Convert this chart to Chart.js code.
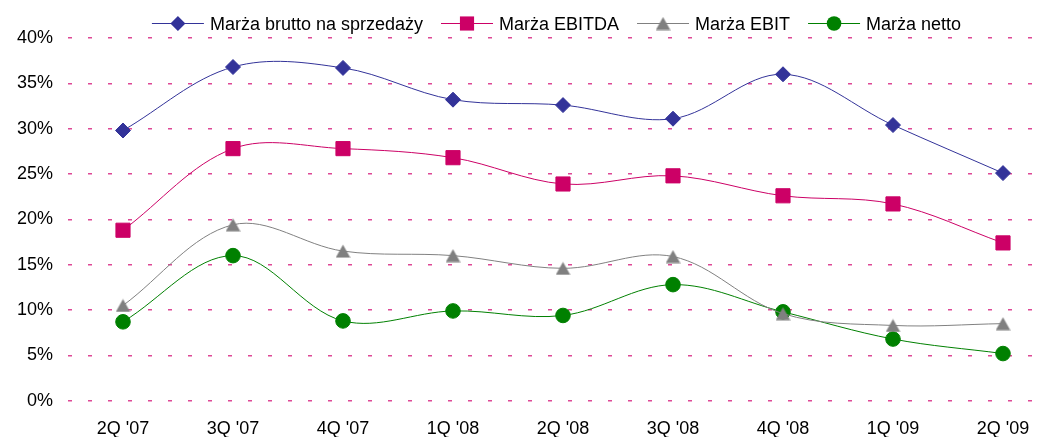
<!DOCTYPE html>
<html>
<head>
<meta charset="utf-8">
<script src="https://cdn.jsdelivr.net/npm/chart.js@4.4.1/dist/chart.umd.min.js"></script>
<style>
  html, body { margin: 0; padding: 0; background: #fff; overflow: hidden; }
  #wrap { width: 1069px; height: 437px; }
</style>
</head>
<body>
<div id="wrap"><canvas id="chart" width="1069" height="437"></canvas></div>
<script>
/* Marże – kwartalnie */
const quarters = ["2Q '07", "3Q '07", "4Q '07", "1Q '08", "2Q '08", "3Q '08", "4Q '08", "1Q '09", "2Q '09"];
const bruttoMargin = [29.8, 36.8, 36.7, 33.2, 32.6, 31.1, 36.0, 30.4, 25.1];
const ebitdaMargin = [18.8, 27.8, 27.8, 26.8, 23.9, 24.8, 22.6, 21.7, 17.4];
const ebitMargin   = [10.5, 19.4, 16.5, 16.0, 14.6, 15.9, 9.6, 8.3, 8.5];
const nettoMargin  = [8.7, 16.0, 8.8, 9.9, 9.4, 12.8, 9.8, 6.8, 5.2];
const yTicks = [0, 5, 10, 15, 20, 25, 30, 35, 40];

const FONT = '"Liberation Sans", Arial, sans-serif';

// triangle centred on its box (like the Excel marker)
function triangleImg(color) {
  const c = document.createElement('canvas');
  c.width = 15; c.height = 14;
  const x = c.getContext('2d');
  x.fillStyle = color;
  x.beginPath(); x.moveTo(7.5, 0.5); x.lineTo(14.8, 13.5); x.lineTo(0.2, 13.5); x.closePath();
  x.fill();
  return c;
}
const triGray = triangleImg('#808080');

const series = [
  { label: 'Marża brutto na sprzedaży', data: bruttoMargin, color: '#333399', style: 'rectRot', r: 7.5 },
  { label: 'Marża EBITDA', data: ebitdaMargin, color: '#cc0066', style: 'rect', r: 10 },
  { label: 'Marża EBIT', data: ebitMargin, color: '#808080', style: triGray, r: 7.5 },
  { label: 'Marża netto', data: nettoMargin, color: '#008000', style: 'circle', r: 7.3 },
];

function drawMarker(ctx, s, x, y) {
  ctx.save();
  ctx.fillStyle = s.color;
  ctx.beginPath();
  if (s.style === 'rectRot') {
    ctx.moveTo(x - s.r, y); ctx.lineTo(x, y - s.r); ctx.lineTo(x + s.r, y); ctx.lineTo(x, y + s.r);
    ctx.closePath(); ctx.fill();
  } else if (s.style === 'rect') {
    const h = s.r * Math.SQRT1_2;
    ctx.fillRect(x - h, y - h, 2 * h, 2 * h);
  } else if (s.style === 'circle') {
    ctx.arc(x, y, s.r, 0, Math.PI * 2); ctx.fill();
  } else {
    ctx.drawImage(s.style, x - s.style.width / 2, y - s.style.height / 2);
  }
  ctx.restore();
}

const legendLine = {
  id: 'legendLine',
  afterDraw(chart) {
    const ctx = chart.ctx;
    ctx.save();
    ctx.font = '18px ' + FONT;
    const lineW = 52, gap = 6, itemGap = 18;
    const widths = series.map((s) => lineW + gap + ctx.measureText(s.label).width);
    const total = widths.reduce((a, b) => a + b, 0) + itemGap * (series.length - 1);
    let x = 556.5 - total / 2;
    const y = 23.5;
    series.forEach((s, i) => {
      ctx.strokeStyle = s.color; ctx.lineWidth = 1;
      ctx.beginPath(); ctx.moveTo(x, y); ctx.lineTo(x + lineW, y); ctx.stroke();
      drawMarker(ctx, s, x + lineW / 2, y);
      ctx.fillStyle = '#000'; ctx.textBaseline = 'alphabetic'; ctx.textAlign = 'left';
      ctx.fillText(s.label, x + lineW + gap, 30);
      x += widths[i] + itemGap;
    });
    ctx.restore();
  },
};

new Chart(document.getElementById('chart'), {
  type: 'line',
  data: {
    labels: quarters,
    datasets: series.map((s) => ({
      label: s.label,
      data: s.data,
      borderColor: s.color,
      backgroundColor: s.color,
      borderWidth: 1,
      tension: 0.35,
      pointStyle: s.style,
      pointRadius: s.r,
      pointBorderWidth: 1,
      pointBorderColor: s.color,
      pointBackgroundColor: s.color,
      pointHoverRadius: s.r,
    })),
  },
  options: {
    responsive: false,
    animation: false,
    events: [],
    layout: { padding: { left: 17, right: 4, top: 38, bottom: 0 } },
    plugins: { legend: { display: false }, tooltip: { enabled: false } },
    scales: {
      x: {
        offset: true,
        grid: { display: false, drawTicks: false },
        border: { display: false },
        ticks: { color: '#000', font: { family: FONT, size: 18 }, padding: 18, maxRotation: 0 },
        afterFit: (axis) => { axis.height = 36.3; },
      },
      y: {
        min: yTicks[0], max: yTicks[yTicks.length - 1],
        afterBuildTicks: (axis) => { axis.ticks = yTicks.map((v) => ({ value: v })); },
        grid: { color: '#de4896', lineWidth: 1.5, drawTicks: false },
        border: { display: false, dash: [4, 16] },
        ticks: { color: '#000', font: { family: FONT, size: 18 }, padding: 15, callback: (v) => v + '%' },
        afterFit: (axis) => { axis.width = 51; },
      },
    },
  },
  plugins: [legendLine],
});
</script>
</body>
</html>
